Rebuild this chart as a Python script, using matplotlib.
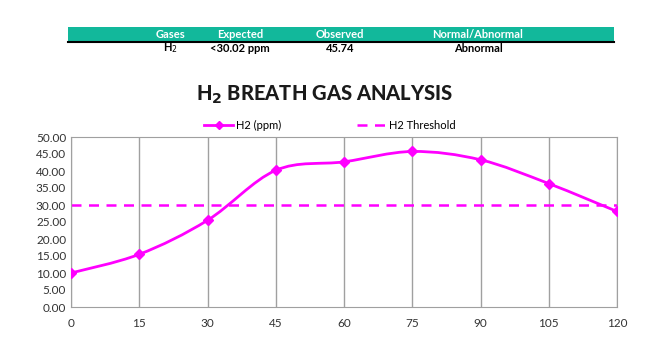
import matplotlib
matplotlib.use("Agg")
import matplotlib.pyplot as plt
from matplotlib.patches import Rectangle, PathPatch
from matplotlib.path import Path
from matplotlib.lines import Line2D

minutes = [0, 15, 30, 45, 60, 75, 90, 105, 120]
h2_ppm = [10.0, 15.5, 25.5, 40.2, 42.7, 45.74, 43.3, 36.3, 28.1]
threshold = 30.02

table_header = ["Gases", "Expected", "Observed", "Normal/Abnormal"]
table_row = ["H$_2$", "<30.02 ppm", "45.74", "Abnormal"]
col_x = [170, 240, 340, 478]

plt.rcParams["font.family"] = ["Lato", "DejaVu Sans"]

W, H = 650, 351
fig = plt.figure(figsize=(6.5, 3.51), dpi=100)

# summary table at the top
teal = "#12B89B"
fig.add_artist(Rectangle((68 / W, 1 - 41 / H), (614 - 68) / W, 14 / H,
                         transform=fig.transFigure, color=teal, lw=0))
fig.add_artist(Line2D([68 / W, 614 / W], [1 - 42 / H] * 2,
                      transform=fig.transFigure, color="black", lw=1.5))
for x, t in zip(col_x, table_header):
    fig.text(x / W, 1 - 34 / H, t, ha="center", va="center", color="white",
             fontsize=8, fontweight="bold")
for x, t in zip(col_x, table_row):
    fig.text(x / W, 1 - 48.5 / H, t, ha="center", va="center", color="black",
             fontsize=8, fontweight="bold")

fig.text(325 / W, 1 - 95 / H, r"H$_\mathbf{2}$ BREATH GAS ANALYSIS", ha="center", va="center",
         fontsize=14.5, fontweight="black", color="#1a1a1a")

ax = fig.add_axes([71 / W, 1 - 307 / H, (617 - 71) / W, (307 - 137) / H])

# smooth line like Excel (cubic bezier through points)
verts = [(minutes[0], h2_ppm[0])]
codes = [Path.MOVETO]
n = len(minutes)
for i in range(n - 1):
    p0 = (minutes[max(i - 1, 0)], h2_ppm[max(i - 1, 0)])
    p1 = (minutes[i], h2_ppm[i])
    p2 = (minutes[i + 1], h2_ppm[i + 1])
    p3 = (minutes[min(i + 2, n - 1)], h2_ppm[min(i + 2, n - 1)])
    c1 = (p1[0] + (p2[0] - p0[0]) / 6, p1[1] + (p2[1] - p0[1]) / 6)
    c2 = (p2[0] - (p3[0] - p1[0]) / 6, p2[1] - (p3[1] - p1[1]) / 6)
    verts += [c1, c2, p2]
    codes += [Path.CURVE4] * 3
ax.add_patch(PathPatch(Path(verts, codes), facecolor="none", edgecolor="#FF00FF", lw=2, zorder=3))
ax.plot(minutes, h2_ppm, ls="none", marker="D", ms=5, color="#FF00FF", zorder=4)
ax.plot([minutes[0], minutes[-1]], [threshold, threshold], ls=(0, (4, 3)), color="#FF00FF", lw=1.8, zorder=2)

ax.set_xlim(0, 120)
ax.set_ylim(0, 50)
ax.set_xticks(minutes)
ax.set_yticks(range(0, 51, 5))
ax.set_yticklabels([f"{v:.2f}" for v in range(0, 51, 5)])
ax.tick_params(length=0, labelsize=8.5, colors="#333333")
ax.tick_params(axis="x", pad=8)
ax.grid(axis="x", color="#a0a0a0", lw=1)
for s in ax.spines.values():
    s.set_color("#a0a0a0")

handles = [Line2D([], [], color="#FF00FF", lw=2, marker="D", ms=4),
           Line2D([], [], color="#FF00FF", lw=1.8, ls=(0, (4, 3)))]
fig.legend(handles, ["H2 (ppm)", "H2 Threshold"], loc="center", bbox_to_anchor=(330 / W, 1 - 125 / H),
           ncol=2, frameon=False, fontsize=8, columnspacing=6.8, handlelength=2.6, handletextpad=0.3)

fig.savefig("out.png", dpi=100, facecolor="white")
